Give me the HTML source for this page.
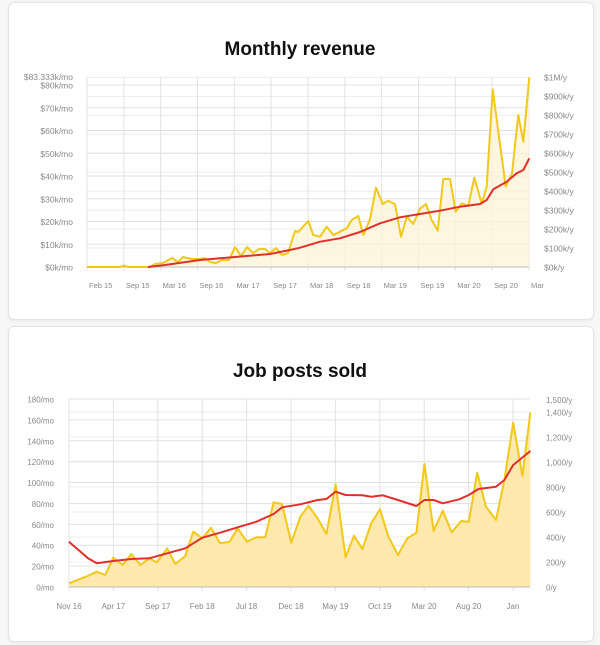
<!DOCTYPE html>
<html><head><meta charset="utf-8"><style>
html,body{margin:0;padding:0;background:#f7f7f7;width:600px;height:645px;overflow:hidden;font-family:"Liberation Sans",sans-serif}
.card{position:absolute;left:8px;width:584px;background:#fff;border:1px solid #e4e4e4;border-radius:6px;box-shadow:0 1px 3px rgba(0,0,0,.06)}
svg{position:absolute;left:0;top:0}
text{font-family:"Liberation Sans",sans-serif}
</style></head><body>
<div class="card" style="top:2px;height:316px"></div>
<div class="card" style="top:326px;height:314px"></div>
<svg id="s" width="600" height="645" xmlns="http://www.w3.org/2000/svg">
<text x="300" y="55" text-anchor="middle" font-size="19" font-weight="bold" fill="#111">Monthly revenue</text>
<text x="300" y="377" text-anchor="middle" font-size="19" font-weight="bold" fill="#111">Job posts sold</text>
<g id="g"></g>
</svg>
<script>
var NS="http://www.w3.org/2000/svg",g=document.getElementById('g');
function el(t,a,txt){var e=document.createElementNS(NS,t);for(var k in a)e.setAttribute(k,a[k]);if(txt!=null)e.textContent=txt;g.appendChild(e);return e;}
function pts(a){return a.map(function(p){return p[0].toFixed(1)+','+p[1].toFixed(1)}).join(' ');}
// Chart 1
var L=87,R=529,Y0=267,PK=2.275;
for(var i=0;i<=10;i++){var y=Y0-i*8.333*PK;el('line',{x1:L,x2:R,y1:y,y2:y,stroke:'#ececec','stroke-width':1});}
for(var i=0;i<=8;i++){var y=Y0-i*10*PK;el('line',{x1:L,x2:R,y1:y,y2:y,stroke:'#e0e0e0','stroke-width':1});el('text',{x:73,y:y+3.5,'text-anchor':'end','font-size':8.5,fill:'#888'},'$'+i*10+'k/mo');}
el('text',{x:73,y:80,'text-anchor':'end','font-size':8.5,fill:'#888'},'$83.333k/mo');
var rl=['$0k/y','$100k/y','$200k/y','$300k/y','$400k/y','$500k/y','$600k/y','$700k/y','$800k/y','$900k/y','$1M/y'];
for(var i=0;i<=10;i++){el('text',{x:544,y:Y0-i*19+3.5,'font-size':8.5,fill:'#888'},rl[i]);}
var xl=['Feb 15','Sep 15','Mar 16','Sep 16','Mar 17','Sep 17','Mar 18','Sep 18','Mar 19','Sep 19','Mar 20','Sep 20','Mar'];
for(var i=0;i<13;i++){var x=87+i*36.83;el('line',{x1:x,x2:x,y1:77,y2:Y0+4,stroke:'#e2e2e2'});el('text',{x:x+2,y:288,'font-size':7.5,fill:'#888'},xl[i]);}
var z2y=[[0,510],[25,483],[40,525],[60,530],[80,500],[100,525],[120,515],[140,505],[155,480],[175,468],[190,525],[210,478],[228,383],[248,432],[265,422],[285,433],[303,530],[320,470],[340,492],[360,446],[378,432],[395,480],[413,512],[430,357],[450,357],[467,455],[485,430],[505,437],[523,353],[545,430],[560,380],[578,88],[597,230],[617,380],[636,340],[655,165],[670,245],[688,52]];
var y1=[[87,267],[120,267],[124,265.5],[128,267],[150,267],[155,264],[163,263],[172,258],[178,262],[183,257],[192,259],[200,259],[205,258],[210,262],[216,263],[222,260],[229,260],[235,247],[241,256],[247,247],[253,253],[259,249],[265,249],[270,253],[276,248],[282,255],[288,253],[295,231],[298,232]];
z2y.forEach(function(p){y1.push([300+p[0]/3,60+p[1]/3]);});
var r1=[[148,267],[165,265],[200,260],[235,257],[270,254],[290,250]];
[[0,563],[60,545],[120,535],[180,516],[240,490],[300,472],[360,462],[420,452],[480,440],[540,432],[560,420],[580,388],[620,365],[650,340],[670,330],[688,295]].forEach(function(p){r1.push([300+p[0]/3,60+p[1]/3]);});
el('path',{d:'M'+y1[0][0]+','+Y0+' L'+pts(y1)+' L'+y1[y1.length-1][0].toFixed(1)+','+Y0+'Z',fill:'#fdf3d6','fill-opacity':0.75});
el('line',{x1:L,x2:R,y1:Y0,y2:Y0,stroke:'#bbb'});
el('polyline',{points:pts(y1),fill:'none',stroke:'#f2c81a','stroke-width':2,'stroke-linejoin':'round'});
el('polyline',{points:pts(r1),fill:'none',stroke:'#e0302b','stroke-width':2,'stroke-linejoin':'round'});
// Chart 2
var L2=69,R2=530,B=587,U=188/180;
var rr=['0/y','200/y','400/y','600/y','800/y','1,000/y','1,200/y','1,400/y'];
for(var i=0;i<8;i++){var y=B-i*25;el('line',{x1:L2,x2:R2,y1:y,y2:y,stroke:'#eeeeee'});el('text',{x:546,y:y+3.5,'font-size':8,fill:'#888'},rr[i]);}
el('text',{x:546,y:B-187.5+3.5,'font-size':8,fill:'#888'},'1,500/y');
for(var i=0;i<=9;i++){var y=B-i*20*U;el('line',{x1:L2,x2:R2,y1:y,y2:y,stroke:'#e2e2e2'});el('text',{x:54,y:y+3.5,'text-anchor':'end','font-size':8,fill:'#888'},(i*20)+'/mo');}
var xl2=['Nov 16','Apr 17','Sep 17','Feb 18','Jul 18','Dec 18','May 19','Oct 19','Mar 20','Aug 20','Jan'];
for(var i=0;i<11;i++){var x=69+i*44.4;el('line',{x1:x,x2:x,y1:399,y2:B+4,stroke:'#e2e2e2'});el('text',{x:x,y:609,'text-anchor':'middle','font-size':8,fill:'#888'},xl2[i]);}
var s=2.613;
var y2=[[180,580],[229,558],[253,545],[275,555],[296,503],[320,525],[343,492],[367,525],[390,505],[410,517],[437,475],[458,522],[484,498],[505,425],[529,445],[551,413],[575,460],[600,455],[621,415],[645,455],[670,442],[693,442],[715,337],[737,342],[761,458],[785,380],[806,347],[830,385],[853,432],[877,283],[903,502],[925,437],[947,477],[970,400],[993,358],[1015,440],[1040,495],[1064,445],[1088,428],[1109,222],[1133,423],[1157,362],[1180,427],[1205,393],[1225,395],[1247,248],[1270,350],[1296,390],[1318,270],[1341,98],[1365,258],[1386,67]].map(function(p){return [p[0]/s,390+p[1]/3];});
var r2=[[180,455],[205,480],[230,505],[253,520],[296,513],[343,507],[390,505],[437,490],[484,475],[529,443],[575,428],[621,412],[670,395],[715,372],[737,352],[785,343],[830,330],[853,327],[877,305],[903,315],[947,316],[970,320],[1000,316],[1040,330],[1088,348],[1109,330],[1133,330],[1157,340],[1200,328],[1225,315],[1250,297],[1296,290],[1318,270],[1341,225],[1386,183]].map(function(p){return [p[0]/s,390+p[1]/3];});
el('path',{d:'M'+y2[0][0].toFixed(1)+','+B+' L'+pts(y2)+' L'+y2[y2.length-1][0].toFixed(1)+','+B+'Z',fill:'#fde8ad'});
el('line',{x1:L2,x2:R2,y1:B,y2:B,stroke:'#bbb'});
el('polyline',{points:pts(y2),fill:'none',stroke:'#f2c81a','stroke-width':2,'stroke-linejoin':'round'});
el('polyline',{points:pts(r2),fill:'none',stroke:'#e0302b','stroke-width':2,'stroke-linejoin':'round'});
</script>
</body></html>
